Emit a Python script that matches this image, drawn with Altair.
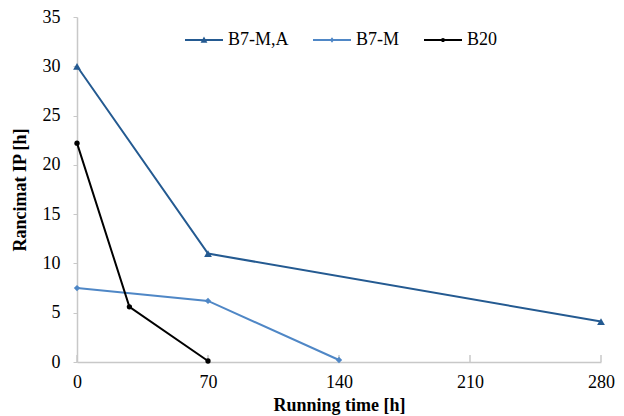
import altair as alt
import pandas as pd

series_names = ["B7-M,A", "B7-M", "B20"]
b7ma_x = [0, 70, 280]
b7ma_y = [30.0, 11.0, 4.1]
b7m_x = [0, 70, 140]
b7m_y = [7.5, 6.2, 0.2]
b20_x = [0, 28, 70]
b20_y = [22.2, 5.6, 0.1]
x_ticks = [0, 70, 140, 210, 280]
colors = ["#245A91", "#4F87C6", "#000000"]

rows = []
for name, xs, ys in zip(series_names, [b7ma_x, b7m_x, b20_x], [b7ma_y, b7m_y, b20_y]):
    for i, (x, y) in enumerate(zip(xs, ys)):
        rows.append({"series": name, "time": x, "ip": y, "order": i})
df = pd.DataFrame(rows)

font = "Liberation Serif"
xscale = alt.Scale(domain=[0, 280], nice=False, zero=False)
yscale = alt.Scale(domain=[0, 35], nice=False)
cscale = alt.Scale(domain=series_names, range=colors)

bar = "M-1,-0.05H1V0.05H-1Z"
legend_shapes = [
    bar + "M0,-0.18L0.18,0.14L-0.18,0.14Z",
    bar + "M0,-0.14L0.11,0L0,0.14L-0.11,0Z",
    bar + "M0.11,0A0.11,0.11,0,1,1,-0.11,0A0.11,0.11,0,1,1,0.11,0Z",
]
sscale = alt.Scale(domain=series_names, range=legend_shapes)

legend = alt.Legend(
    title=None, orient="none", direction="horizontal", legendX=108, legendY=4,
    labelFont=font, labelFontSize=18, labelColor="#000000",
    symbolSize=1444, symbolOpacity=1, symbolStrokeWidth=0, labelOffset=5, columnPadding=24,
)

x_enc = alt.X("time:Q", scale=xscale, axis=alt.Axis(
    title="Running time [h]", values=x_ticks, ticks=False, grid=False, labelFlush=False,
    domainColor="#C8C8C8", domainWidth=1.5, labelFont=font, labelFontSize=18, labelColor="#000000",
    labelPadding=11, titleFont=font, titleFontSize=18, titleFontWeight="bold", titleColor="#000000",
    titlePadding=5))
y_enc = alt.Y("ip:Q", scale=yscale, axis=alt.Axis(
    title="Rancimat IP [h]", values=list(range(0, 36, 5)), grid=False, tickSize=4, labelFlush=False,
    tickColor="#C8C8C8", domainColor="#C8C8C8", domainWidth=1.5, labelFont=font, labelFontSize=18,
    labelColor="#000000", labelPadding=13, titleFont=font, titleFontSize=18, titleFontWeight="bold",
    titleColor="#000000", titlePadding=13))

legend_layer = alt.Chart(df).transform_filter("false").mark_point(
    filled=True, size=1444, opacity=1).encode(
    x=x_enc, y=y_enc,
    color=alt.Color("series:N", scale=cscale, legend=legend),
    shape=alt.Shape("series:N", scale=sscale, legend=legend),
)

lines = alt.Chart(df).mark_line(strokeWidth=2).encode(
    x=alt.X("time:Q", scale=xscale), y=alt.Y("ip:Q", scale=yscale),
    color=alt.Color("series:N", scale=cscale, legend=legend),
    order="order:O",
)

shape_map = {"B7-M,A": ("triangle-up", 60), "B7-M": ("diamond", 40), "B20": ("circle", 28)}
points = []
for name in series_names:
    shp, sz = shape_map[name]
    points.append(alt.Chart(df[df.series == name]).mark_point(
        shape=shp, size=sz, filled=True, opacity=1).encode(
        x=alt.X("time:Q", scale=xscale), y=alt.Y("ip:Q", scale=yscale),
        color=alt.Color("series:N", scale=cscale, legend=legend)))

ticks_df = pd.DataFrame({"t": x_ticks})
tick_marks = alt.Chart(ticks_df).mark_rule(color="#C8C8C8", strokeWidth=1.5).encode(
    x=alt.X("t:Q", scale=xscale), y=alt.value(345), y2=alt.value(338))

chart = alt.layer(legend_layer, tick_marks, lines, *points).properties(
    width=524, height=345,
    padding={"left": 69, "top": 9, "right": 15, "bottom": 54},
    autosize=alt.AutoSizeParams(type="none"),
).configure_view(stroke=None)

chart.save("out.html", embed_options={"renderer": "svg", "actions": False})
